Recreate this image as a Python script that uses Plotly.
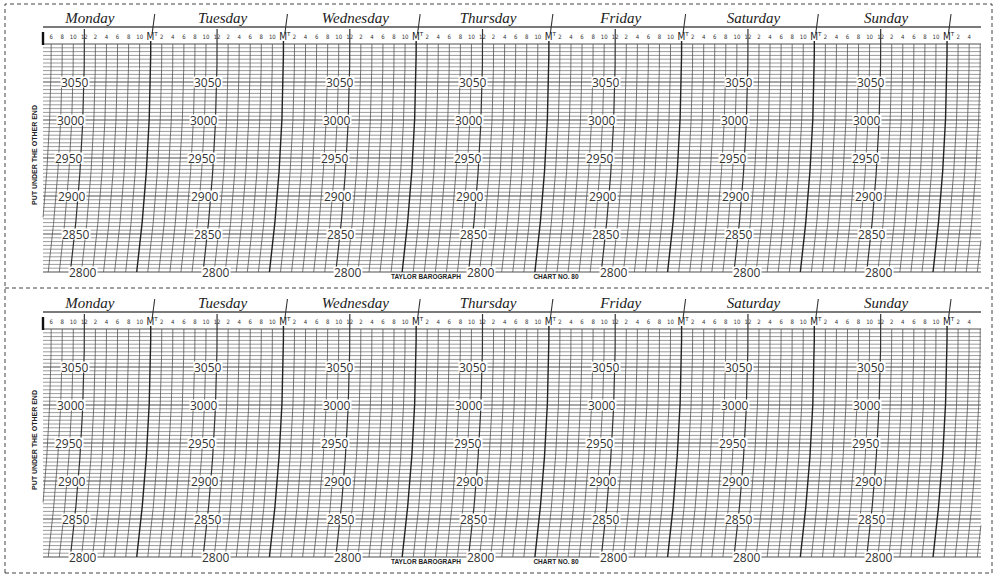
import numpy as np
import plotly.graph_objects as go

# ---------------- data ----------------
days = ["Monday", "Tuesday", "Wednesday", "Thursday", "Friday", "Saturday", "Sunday"]
hour_labels = ["Mᵀ", "2", "4", "6", "8", "10", "12", "2", "4", "6", "8", "10"]  # every 2 h from midnight
pressure_labels = [3050, 3000, 2950, 2900, 2850, 2800]
pressure_min, pressure_max, pressure_step = 2800, 3100, 5
line_hour_first, line_hour_last, line_hour_step = 6, 176, 2
footer_labels = ["TAYLOR BAROGRAPH", "CHART NO. 80"]
side_label = "PUT UNDER THE OTHER END"

# ---------------- geometry (pixels) ----------------
W, H = 1000, 578
X0_PX, PX_PER_HOUR = 18.0, 5.53
Y2800_PX, PX_PER_UNIT = 272.0, 0.76
PANEL_H = 285
BEND_PX = 14.0
GRID_LEFT_PX, GRID_RIGHT_PX = 43.0, 981.0
label_hour_offset = {3050: 10.3, 3000: 9.6, 2950: 9.3, 2900: 9.8, 2850: 10.4, 2800: 11.75}


def hx(px):
    return (px - X0_PX) / PX_PER_HOUR


def py(ypx):
    return pressure_min + (Y2800_PX - ypx) / PX_PER_UNIT


start_h, end_h = hx(GRID_LEFT_PX), hx(GRID_RIGHT_PX)
bend_h = BEND_PX / PX_PER_HOUR


def bend(p):
    s = (pressure_max - p) / (pressure_max - pressure_min)
    return -bend_h * s * s


fig = go.Figure()
annotations = []


def add_panel(xa, ya):
    common = dict(xaxis=xa, yaxis=ya, hoverinfo="skip", showlegend=False)
    # horizontal pressure lines
    minor_x, minor_y, major_x, major_y = [], [], [], []
    for p in range(pressure_min, pressure_max + 1, pressure_step):
        if p % 50 == 0:
            major_x += [start_h, end_h, None]
            major_y += [p, p, None]
        else:
            minor_x += [start_h, end_h, None]
            minor_y += [p, p, None]
    fig.add_trace(go.Scatter(x=minor_x, y=minor_y, mode="lines",
                             line=dict(color="#909090", width=0.9), **common))
    fig.add_trace(go.Scatter(x=major_x, y=major_y, mode="lines",
                             line=dict(color="#505050", width=1.2), **common))
    # curved time lines
    groups = {"reg": ([], []), "noon": ([], []), "mid": ([], [])}
    for h in range(line_hour_first, line_hour_last + 1, line_hour_step):
        if h % 24 == 0:
            key, top = "mid", py(41)
        elif h % 12 == 0:
            key, top = "noon", py(29)
        else:
            key, top = "reg", pressure_max
        ps = np.linspace(pressure_min, top, 160)
        xs = h + bend(np.minimum(ps, pressure_max))
        gx, gy = groups[key]
        inside = (xs >= start_h) & (xs <= end_h)
        if not inside.any():
            continue
        for xv, pv, ok in zip(xs, ps, inside):
            if ok:
                gx.append(float(xv)); gy.append(float(pv))
            elif gx and gx[-1] is not None:
                gx.append(None); gy.append(None)
        gx.append(None); gy.append(None)
    styles = {"reg": ("#555555", 0.8), "noon": ("#333333", 1.2), "mid": ("#222222", 1.4)}
    for key, (gx, gy) in groups.items():
        c, w = styles[key]
        fig.add_trace(go.Scatter(x=gx, y=gy, mode="lines", line=dict(color=c, width=w), **common))
    # header line
    fig.add_trace(go.Scatter(x=[start_h, end_h], y=[py(27), py(27)], mode="lines",
                             line=dict(color="#7a7a7a", width=1.8), **common))
    # midnight slashes above header
    sx, sy = [], []
    for d in range(1, len(days) + 1):
        h = 24 * d
        sx += [h + 1.5 / PX_PER_HOUR, h + 4.0 / PX_PER_HOUR, None]
        sy += [py(33), py(14), None]
    fig.add_trace(go.Scatter(x=sx, y=sy, mode="lines", line=dict(color="#333", width=1.1), **common))
    # start marker
    fig.add_trace(go.Scatter(x=[start_h, start_h], y=[py(32), py(45)], mode="lines",
                             line=dict(color="#111", width=2.4), **common))
    # hour labels
    hx_list, ht_list, mx_list, mt_list = [], [], [], []
    for h in range(line_hour_first, 173, 2):
        lab = hour_labels[(h // 2) % 12]
        if h % 24 == 0:
            mx_list.append(h); mt_list.append(lab)
        else:
            hx_list.append(h); ht_list.append(lab)
    fig.add_trace(go.Scatter(x=hx_list, y=[py(37)] * len(hx_list), text=ht_list, mode="text",
                             textfont=dict(family="Liberation Sans Narrow, DejaVu Sans Condensed, Liberation Sans",
                                           size=6, color="#333"), **common))
    fig.add_trace(go.Scatter(x=[m + 1.5 / PX_PER_HOUR for m in mx_list], y=[py(37)] * len(mx_list),
                             text=mt_list, mode="text",
                             textfont=dict(family="DejaVu Sans Condensed, DejaVu Sans", size=10, color="#222"),
                             **common))
    # day names
    fig.add_trace(go.Scatter(x=[24 * i + 13 for i in range(len(days))], y=[py(19)] * len(days),
                             text=["<i>%s</i>" % d for d in days], mode="text",
                             textfont=dict(family="Liberation Serif", size=15, color="#222"), **common))
    # footer
    fig.add_trace(go.Scatter(x=[hx(426), hx(556)], y=[py(277)] * 2,
                             text=["<b>%s</b>" % t for t in footer_labels], mode="text",
                             textfont=dict(family="Liberation Sans", size=6.5, color="#222"), **common))
    # pressure labels
    for i in range(len(days)):
        for p in pressure_labels:
            annotations.append(dict(x=24 * i + label_hour_offset[p], y=p, xref=xa, yref=ya,
                                    text=str(p), showarrow=False, bgcolor="white", borderpad=0,
                                    height=10, font=dict(family="Open Sans", size=12, color="#333")))
    annotations.append(dict(x=hx(34), y=py(155), xref=xa, yref=ya, text="<b>%s</b>" % side_label,
                            textangle=-90, showarrow=False,
                            font=dict(family="Liberation Sans", size=7, color="#222")))


add_panel("x", "y")
add_panel("x2", "y2")

xrange = [hx(0), hx(W)]
yrange = [py(PANEL_H), py(0)]
top_dom = [1 - PANEL_H / H, 1]
bot_dom = [1 - 2 * PANEL_H / H, 1 - PANEL_H / H]

axis_off = dict(visible=False, showgrid=False, zeroline=False, fixedrange=True)
dash = dict(color="#444", width=1, dash="4px,3px")
shapes = [
    dict(type="rect", xref="paper", yref="paper", x0=5 / W, x1=992 / W, y0=1 - 573 / H, y1=1 - 4 / H,
         line=dash),
    dict(type="line", xref="paper", yref="paper", x0=5 / W, x1=992 / W, y0=1 - 288 / H, y1=1 - 288 / H,
         line=dash),
]

fig.update_layout(
    width=W, height=H, margin=dict(l=0, r=0, t=0, b=0),
    paper_bgcolor="white", plot_bgcolor="white",
    xaxis=dict(domain=[0, 1], range=xrange, anchor="y", **axis_off),
    yaxis=dict(domain=top_dom, range=yrange, anchor="x", **axis_off),
    xaxis2=dict(domain=[0, 1], range=xrange, anchor="y2", **axis_off),
    yaxis2=dict(domain=bot_dom, range=yrange, anchor="x2", **axis_off),
    annotations=annotations, shapes=shapes,
)

fig.write_html("out.html", config={"displayModeBar": False},
               post_script="document.body.style.margin='0px';")
